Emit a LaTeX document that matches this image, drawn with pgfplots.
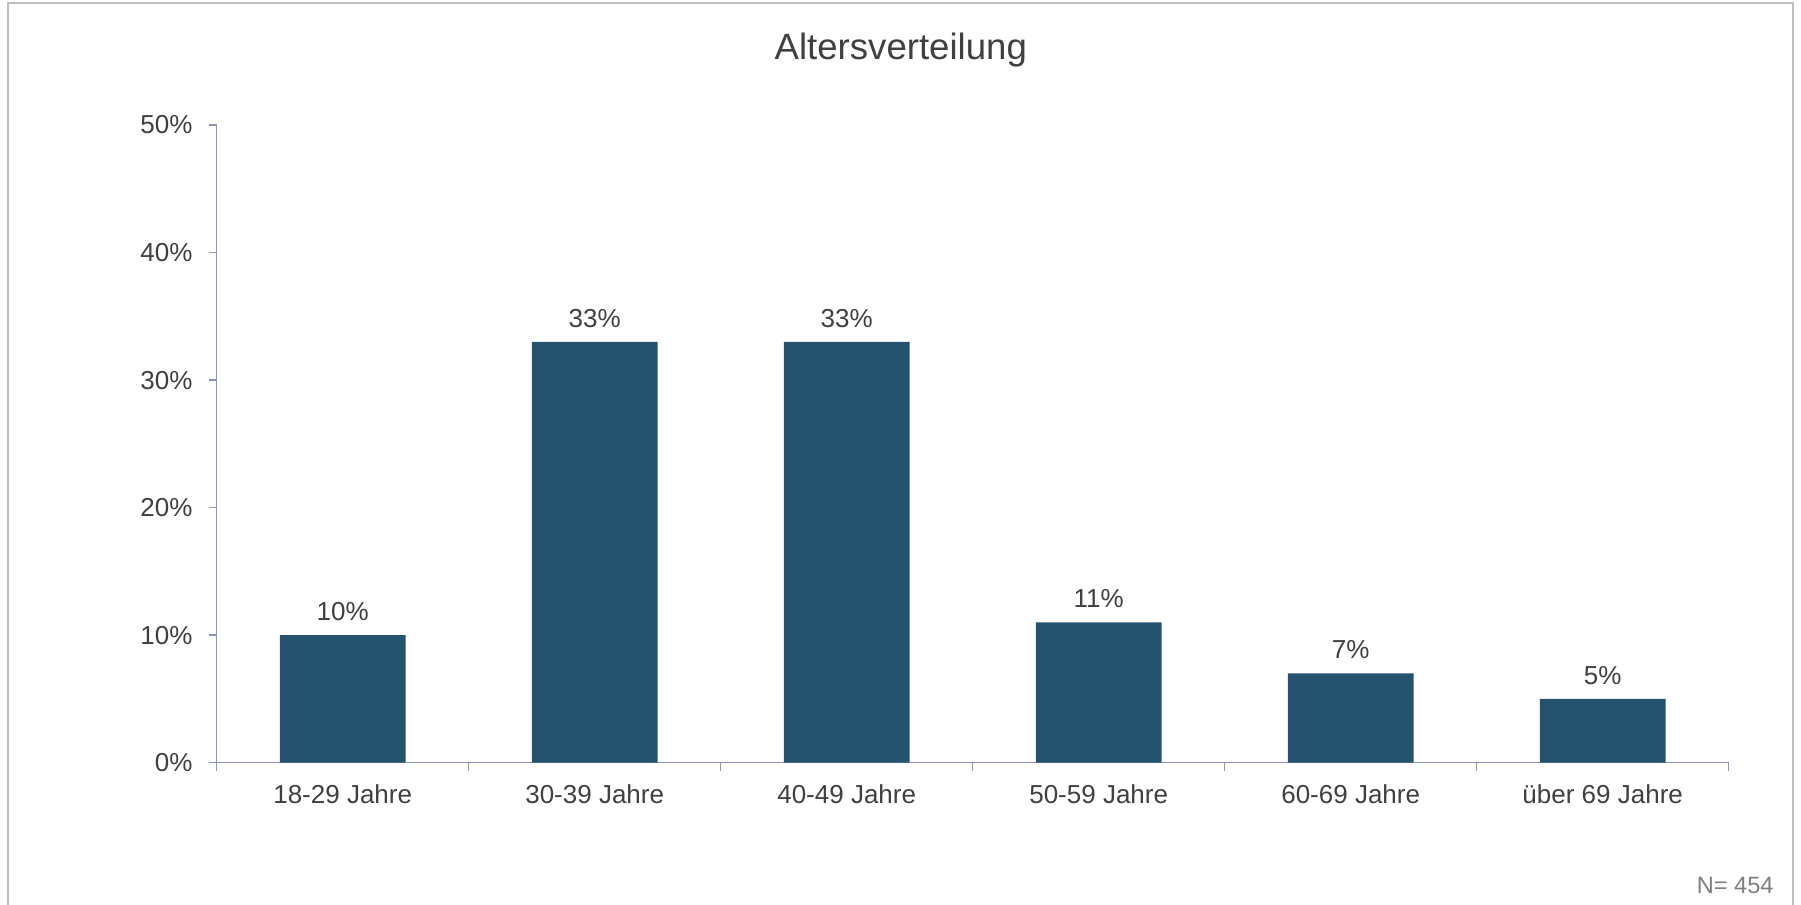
\documentclass[border=0pt]{standalone}
\usepackage{pgfplots}
\pgfplotsset{compat=1.18}
\usepackage{fontspec}
\setmainfont{Liberation Sans}
\definecolor{barcol}{HTML}{24526F}
\definecolor{axiscol}{HTML}{8E93B8}
\definecolor{txtcol}{HTML}{404040}
\definecolor{framecol}{HTML}{BFBFBF}
\begin{document}
\begin{tikzpicture}
\useasboundingbox (0,0) rectangle (900.5bp,452.5bp);
\fill[white] (0,0) rectangle (900.5bp,452.5bp);
\draw[framecol, line width=1.2bp] (4bp,-2bp) -- (4bp,451bp) -- (896.5bp,451bp) -- (896.5bp,-2bp);
\node[anchor=base, text=txtcol, font=\fontsize{18.3bp}{22bp}\selectfont] at (450.4bp,422.5bp) {Altersverteilung};
\node[anchor=base east, text=gray, font=\fontsize{11.8bp}{14bp}\selectfont, inner sep=0pt] at (887bp,6bp) {N= 454};
\begin{axis}[
  at={(108.35bp,71.15bp)}, anchor=south west,
  scale only axis, width=756bp, height=318.85bp,
  xmin=-0.5, xmax=5.5, ymin=0, ymax=50,
  axis x line*=bottom, axis y line*=left,
  axis line style={axiscol, line width=0.7bp},
  every tick/.style={axiscol, line width=0.7bp},
  tick align=outside, major tick length=4bp,
  xtick={-0.5,0.5,...,5.5},
  x tick label as interval,
  xticklabels={18-29 Jahre,30-39 Jahre,40-49 Jahre,50-59 Jahre,60-69 Jahre,über 69 Jahre},
  ytick={0,10,...,50},
  yticklabel={\pgfmathprintnumber{\tick}\%},
  /pgf/number format/assume math mode=true,
  ticklabel style={text=txtcol, font=\fontsize{13bp}{15bp}\selectfont},
  yticklabel style={xshift=-4.6bp},
  xticklabel style={yshift=-3.5bp},
  ybar, bar width=62.8bp,
  nodes near coords={\pgfmathprintnumber{\pgfplotspointmeta}\%},
  every node near coord/.append style={anchor=base, yshift=7.3bp, text=txtcol, font=\fontsize{13bp}{15bp}\selectfont},
  clip=false,
]
\addplot[fill=barcol, draw=none] coordinates {(0,10) (1,33) (2,33) (3,11) (4,7) (5,5)};
\end{axis}
\end{tikzpicture}
\end{document}
